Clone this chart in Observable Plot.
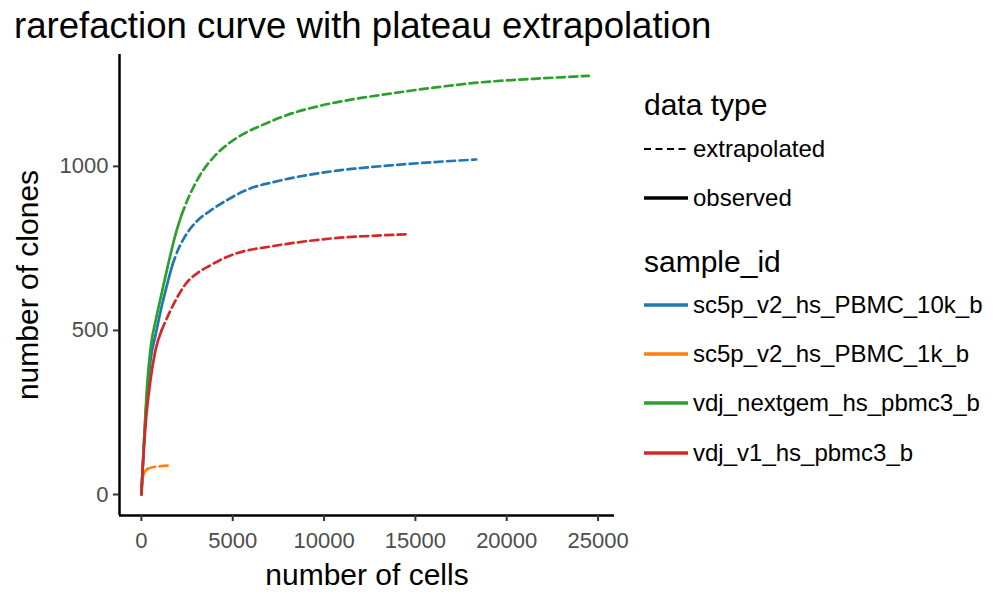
<!DOCTYPE html>
<html><head><meta charset="utf-8">
<script src="https://cdn.jsdelivr.net/npm/d3@7"></script>
<script src="https://cdn.jsdelivr.net/npm/@observablehq/plot@0.6"></script>
<style>
body{margin:0;background:#fff;font-family:"Liberation Sans",Arial,sans-serif;}
#wrap{position:relative;width:1000px;height:600px;overflow:hidden;background:#fff;}
#chart{position:absolute;left:0;top:0;}
#title{position:absolute;left:14px;top:8px;font-size:36.6px;line-height:1;color:#000;white-space:nowrap;}
#legend{position:absolute;left:0;top:0;}
</style></head><body>
<div id="wrap"><div id="chart"></div><div id="title">rarefaction curve with plateau extrapolation</div><svg id="legend" width="1000" height="600"></svg></div>
<script>
const samples = ["sc5p_v2_hs_PBMC_10k_b","sc5p_v2_hs_PBMC_1k_b","vdj_nextgem_hs_pbmc3_b","vdj_v1_hs_pbmc3_b"];
const colors = ["#1f77b4","#ff7f0e","#2ca02c","#d62728"];
const dataTypes = ["extrapolated","observed"];
const xTicks = [0,5000,10000,15000,20000,25000];
const yTicks = [0,500,1000];

// sc5p_v2_hs_PBMC_10k_b
const pbmc10kObsCells  = [0,50,150,300,500,790,1060,1430,1700];
const pbmc10kObsClones = [0,60,165,300,410,490,561,645,700];
const pbmc10kExtCells  = [1700,2000,2340,3070,3800,4710,5620,6170,7080,8000,9800,11640,13640,16000,18330];
const pbmc10kExtClones = [700,745,782,835,866,898,925,937,950,962,980,993,1003,1013,1021];
// sc5p_v2_hs_PBMC_1k_b
const pbmc1kObsCells  = [0,30,130,330];
const pbmc1kObsClones = [0,35,63,78];
const pbmc1kExtCells  = [330,600,1000,1460];
const pbmc1kExtClones = [78,83,86,88];
// vdj_nextgem_hs_pbmc3_b
const nextgemObsCells  = [0,50,150,310,500,800,1060,1430,1880,2200];
const nextgemObsClones = [0,60,170,330,445,535,601,693,795,852];
const nextgemExtCells  = [2200,2500,2880,3340,3980,4710,5620,6530,7080,8000,9810,11640,13640,16000,18570,21500,24490];
const nextgemExtClones = [852,895,940,985,1030,1067,1100,1124,1137,1157,1185,1205,1222,1240,1256,1267,1276];
// vdj_v1_hs_pbmc3_b
const v1ObsCells  = [0,60,225,500,770,1100];
const v1ObsClones = [0,70,210,350,440,500];
const v1ExtCells  = [1100,1680,2400,3140,3600,4400,5260,7080,8900,10730,12500,14460];
const v1ExtClones = [500,571,640,678,693,717,736,756,771,782,788,793];

function rows(sample, type, cells, clones){
  return cells.map((c,i)=>({sample, type, cells:c, clones:clones[i]}));
}
const series = [
  [samples[0], pbmc10kExtCells, pbmc10kExtClones, pbmc10kObsCells, pbmc10kObsClones],
  [samples[1], pbmc1kExtCells, pbmc1kExtClones, pbmc1kObsCells, pbmc1kObsClones],
  [samples[2], nextgemExtCells, nextgemExtClones, nextgemObsCells, nextgemObsClones],
  [samples[3], v1ExtCells, v1ExtClones, v1ObsCells, v1ObsClones]
];
const xDomain = [-1200, 25900];
const yDomain = [-64, 1341];
const lineMarks = [];
for (const [s, ec, ev, oc, ov] of series) {
  lineMarks.push(Plot.line(rows(s, dataTypes[0], ec, ev), {x:"cells", y:"clones", stroke:"sample", strokeWidth:2.7, strokeDasharray:"8,4.5", curve:"monotone-x"}));
  lineMarks.push(Plot.line(rows(s, dataTypes[1], oc, ov), {x:"cells", y:"clones", stroke:"sample", strokeWidth:2.7, curve:"monotone-x"}));
}

const chart = Plot.plot({
  width:1000, height:600,
  marginLeft:119, marginRight:386, marginTop:54, marginBottom:85,
  x:{domain:xDomain},
  y:{domain:yDomain},
  color:{domain:samples, range:colors},
  style:{fontFamily:"'Liberation Sans', Arial, sans-serif", fontSize:"22px", background:"transparent", color:"#000"},
  marks:[
    ...lineMarks,
    Plot.ruleX([xDomain[0]], {stroke:"#000", strokeWidth:2.5}),
    Plot.ruleY([yDomain[0]], {stroke:"#000", strokeWidth:2.5}),
    Plot.axisX({ticks:xTicks, tickFormat:d=>String(d), tickSize:6, tickPadding:11, stroke:"#333", strokeWidth:2, fill:"#4d4d4d", label:null}),
    Plot.axisY({ticks:yTicks, tickFormat:d=>String(d), tickSize:6, tickPadding:5, stroke:"#333", strokeWidth:2, fill:"#4d4d4d", label:null}),
    Plot.text(["number of cells"], {text:d=>d, frameAnchor:"bottom", textAnchor:"middle", lineAnchor:"middle", dy:60, fontSize:30, fill:"#000"}),
    Plot.text(["number of clones"], {text:d=>d, frameAnchor:"left", textAnchor:"middle", lineAnchor:"middle", rotate:-90, dx:-91, fontSize:30, fill:"#000"})
  ]
});
document.getElementById("chart").appendChild(chart);

// legend
const lg = d3.select("#legend").style("font-family","'Liberation Sans', Arial, sans-serif");
lg.append("text").attr("x",644).attr("y",115).attr("font-size",30).text("data type");
const dtY = [149, 198];
dataTypes.forEach((t,i)=>{
  lg.append("line").attr("x1",644).attr("x2",688).attr("y1",dtY[i]).attr("y2",dtY[i])
    .attr("stroke","#000").attr("stroke-width", i===0 ? 2 : 3.3)
    .attr("stroke-dasharray", i===0 ? "7,4.5" : null);
  lg.append("text").attr("x",693).attr("y",dtY[i]-1).attr("dominant-baseline","central").attr("font-size",24).text(t);
});
lg.append("text").attr("x",644).attr("y",272).attr("font-size",30).text("sample_id");
const sY = [305,354,403,453];
samples.forEach((s,i)=>{
  lg.append("line").attr("x1",644).attr("x2",688).attr("y1",sY[i]).attr("y2",sY[i])
    .attr("stroke",colors[i]).attr("stroke-width",3.3);
  lg.append("text").attr("x",693).attr("y",sY[i]-1).attr("dominant-baseline","central").attr("font-size",24).text(s);
});
</script>
</body></html>
